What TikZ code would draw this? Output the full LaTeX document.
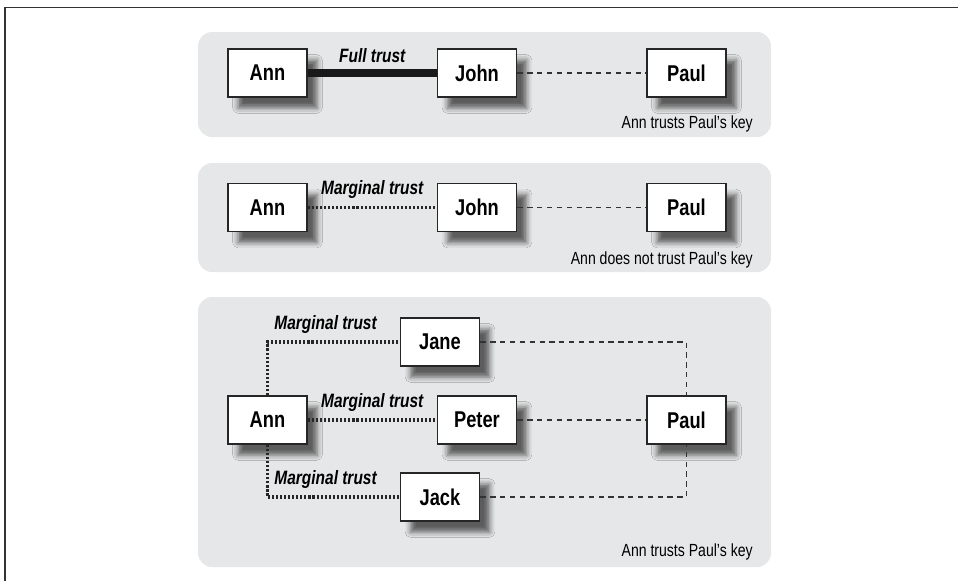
\documentclass[tikz,border=0pt]{standalone}
\usepackage{fontspec}
\setmainfont{Liberation Sans}[FakeStretch=0.8]
\usepackage{xcolor}
\usetikzlibrary{shadows.blur}
\definecolor{panelgray}{HTML}{E6E7E8}
\definecolor{framegray}{HTML}{333333}
\tikzset{
  panel/.style={fill=panelgray, rounded corners=8pt},
  person/.style={rectangle, draw=black!85, line width=1.1pt, fill=white,
                 minimum width=1.58cm, minimum height=0.96cm, inner sep=0pt,
                 font=\fontsize{13}{15}\selectfont\bfseries,
                 blur shadow={shadow xshift=0.2cm, shadow yshift=-0.22cm,
                              shadow blur radius=3pt, shadow opacity=60}},
  fulltrust/.style={line width=4pt, draw=black!90},
  margtrust/.style={line width=2pt, draw=black!85, dash pattern=on 1.2pt off 1.1pt},
  keylink/.style={line width=0.6pt, draw=black!80, dash pattern=on 3pt off 2.6pt},
  trustlbl/.style={font=\fontsize{11}{13}\selectfont\bfseries\itshape, inner sep=1pt},
  keynote/.style={font=\fontsize{10}{12}\selectfont, anchor=east, inner sep=0pt},
}

\begin{document}
\begin{tikzpicture}
  \useasboundingbox (0,0) rectangle (19.16,-11.62);
  \draw[framegray, line width=1.1pt] (0.10,-11.62) |- (19.16,-0.15);

  % panels
  \fill[panel] (3.96,-0.64) rectangle (15.42,-2.74);
  \fill[panel] (3.96,-3.26) rectangle (15.42,-5.44);
  \fill[panel] (3.96,-5.94) rectangle (15.42,-11.34);

  % full trust
  \node[person] (a1) at (5.35,-1.46)  {Ann};
  \node[person] (j1) at (9.54,-1.46)  {John};
  \node[person] (p1) at (13.73,-1.46) {Paul};
  \draw[fulltrust] (a1) -- node[trustlbl, above=3pt] {Full trust} (j1);
  \draw[keylink] (j1) -- (p1);
  \node[keynote] (n1) at (15.06,-2.48) {Ann trusts Paul’s key};

  % one marginal trust
  \node[person] (a2) at (5.35,-4.15)  {Ann};
  \node[person] (j2) at (9.54,-4.15)  {John};
  \node[person] (p2) at (13.73,-4.15) {Paul};
  \draw[margtrust] (a2) -- node[trustlbl, above=3pt] {Marginal trust} (j2);
  \draw[keylink] (j2) -- (p2);
  \node[keynote] (n2) at (15.06,-5.20) {Ann does not trust Paul’s key};

  % three marginal trusts
  \node[person] (a3)    at (5.35,-8.40)  {Ann};
  \node[person] (jane)  at (8.80,-6.84)  {Jane};
  \node[person] (peter) at (9.54,-8.40)  {Peter};
  \node[person] (jack)  at (8.80,-9.94)  {Jack};
  \node[person] (p3)    at (13.73,-8.40) {Paul};
  \draw[margtrust] (a3.north) |- node[trustlbl, above=3pt, pos=0.72] {Marginal trust} (jane.west);
  \draw[margtrust] (a3) -- node[trustlbl, above=3pt] {Marginal trust} (peter);
  \draw[margtrust] (a3.south) |- node[trustlbl, above=3pt, pos=0.72] {Marginal trust} (jack.west);
  \draw[keylink] (jane.east) -| (p3.north);
  \draw[keylink] (peter) -- (p3);
  \draw[keylink] (jack.east) -| (p3.south);
  \node[keynote] (n3) at (15.06,-11.04) {Ann trusts Paul’s key};
\end{tikzpicture}
\end{document}
